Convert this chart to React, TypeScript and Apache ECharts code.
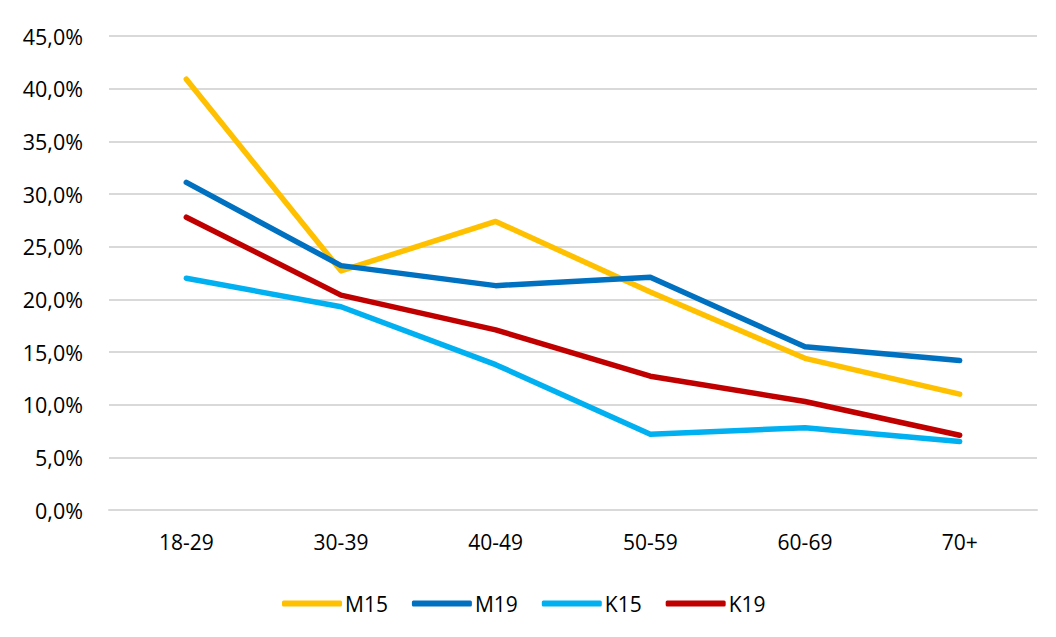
import React, { useEffect, useRef } from "react";
import * as echarts from "echarts";

const categories = ["18-29", "30-39", "40-49", "50-59", "60-69", "70+"];
const m15 = [40.9, 22.7, 27.4, 20.7, 14.4, 11.0];
const m19 = [31.1, 23.2, 21.3, 22.1, 15.5, 14.2];
const k15 = [22.0, 19.3, 13.8, 7.2, 7.8, 6.5];
const k19 = [27.8, 20.4, 17.1, 12.7, 10.3, 7.1];
const seriesNames = ["M15", "M19", "K15", "K19"];
const colors = ["#FFC000", "#0070C0", "#00B0F0", "#C00000"];

export default function App() {
  const ref = useRef<HTMLDivElement>(null);
  useEffect(() => {
    if (!ref.current) return;
    const chart = echarts.init(ref.current, null, { renderer: "svg" });
    const font = "Open Sans";
    const data = [m15, m19, k15, k19];
    chart.setOption({
      animation: false,
      textStyle: { fontFamily: font },
      grid: { left: 109, right: 19, top: 36, bottom: 127, containLabel: false },
      legend: {
        bottom: 18,
        left: 277,
        itemWidth: 60,
        itemHeight: 6,
        itemGap: 24,
        icon: "roundRect",
        textStyle: { fontSize: 21, color: "#000", fontFamily: font, padding: [0, 0, 0, -2] },
        data: seriesNames,
      },
      xAxis: {
        type: "category",
        data: categories,
        boundaryGap: true,
        axisLine: { lineStyle: { color: "#d9d9d9", width: 2 } },
        axisTick: { show: false },
        axisLabel: { fontSize: 21, color: "#000", margin: 21, fontFamily: font },
      },
      yAxis: {
        type: "value",
        min: 0,
        max: 45,
        interval: 5,
        axisLine: { show: false },
        axisTick: { show: false },
        splitLine: { lineStyle: { color: "#d9d9d9", width: 2 } },
        axisLabel: {
          fontSize: 21.5,
          color: "#000",
          margin: 26,
          fontFamily: font,
          formatter: (v: number) => v.toFixed(1).replace(".", ",") + "%",
        },
      },
      series: seriesNames.map((name, i) => ({
        name,
        type: "line",
        data: data[i],
        symbol: "none",
        color: colors[i],
        lineStyle: { width: 5.5, color: colors[i], cap: "round", join: "round" },
        itemStyle: { color: colors[i] },
      })),
    });
    return () => chart.dispose();
  }, []);
  return <div ref={ref} style={{ width: 1056, height: 637, position: "absolute", left: 0, top: 0 }} />;
}
